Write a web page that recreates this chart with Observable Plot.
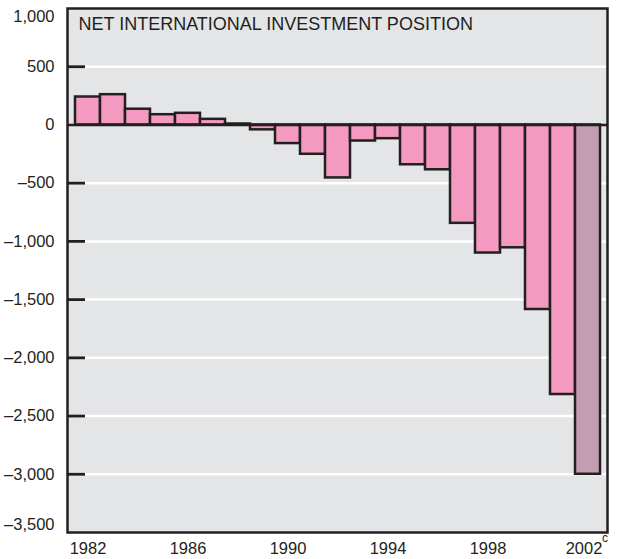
<!DOCTYPE html>
<html>
<head>
<meta charset="utf-8">
<script src="https://cdn.jsdelivr.net/npm/d3@7"></script>
<script src="https://cdn.jsdelivr.net/npm/@observablehq/plot@0.6"></script>
<style>
  html, body { margin: 0; padding: 0; background: #fff; }
  #chart svg { display: block; overflow: visible; }
</style>
</head>
<body>
<div id="chart"></div>
<script>
const years = [1982,1983,1984,1985,1986,1987,1988,1989,1990,1991,1992,1993,1994,1995,1996,1997,1998,1999,2000,2001,2002];
const values = [240,260,135,88,100,48,8,-42,-160,-252,-455,-138,-118,-342,-385,-845,-1100,-1055,-1585,-2315,-3000];
const estimated = [2002];
const yTicks = [1000,500,0,-500,-1000,-1500,-2000,-2500,-3000,-3500];
const gridTicks = [500,-500,-1000,-1500,-2000,-2500,-3000];
const xTickYears = [1982,1986,1990,1994,1998,2002];
const title = "NET INTERNATIONAL INVESTMENT POSITION";

const data = years.map((y, i) => ({year: y, value: values[i], est: estimated.includes(y)}));
const font = "'Liberation Sans', Arial, sans-serif";
const fmt = d => d3.format(",")(d).replace("\u2212", "\u2013").replace("-", "\u2013");

const chart = Plot.plot({
  width: 619,
  height: 559,
  marginLeft: 67,
  marginRight: 12,
  marginTop: 8,
  marginBottom: 27,
  style: {fontFamily: font, fontSize: "16.5px", color: "#231f20", background: "#fff"},
  x: {type: "band", domain: years, padding: 0, axis: null, label: null},
  y: {domain: [-3500, 1000], axis: null, label: null},
  marks: [
    Plot.frame({fill: "#e4e5e7", stroke: null}),
    Plot.ruleY(gridTicks, {stroke: "#ffffff", strokeWidth: 2.5}),
    Plot.tickY(gridTicks, {y: d => d, stroke: "#231f20", strokeWidth: 2.8, insetRight: 522}),
    Plot.axisY({ticks: yTicks.slice(1, -1), tickSize: 0, tickPadding: 13, tickFormat: fmt, fill: "#231f20", label: null}),
    Plot.axisY({ticks: [1000], tickSize: 0, tickPadding: 13, tickFormat: fmt, fill: "#231f20", dy: 8, label: null}),
    Plot.axisY({ticks: [-3500], tickSize: 0, tickPadding: 13, tickFormat: fmt, fill: "#231f20", dy: -8, label: null}),
    Plot.barY(data, {x: "year", y: "value", fill: d => d.est ? "#c39db1" : "#f49ac1", stroke: "#231f20", strokeWidth: 2.5, inset: 0}),
    Plot.ruleY([0], {stroke: "#231f20", strokeWidth: 2.5}),
    Plot.frame({stroke: "#231f20", strokeWidth: 2.5}),
    Plot.axisX({ticks: xTickYears.slice(0, -1), tickSize: 0, tickPadding: 10, tickFormat: d => String(d), fill: "#231f20", label: null}),
    Plot.axisX({ticks: xTickYears.slice(-1), tickSize: 0, tickPadding: 10, tickFormat: d => String(d), fill: "#231f20", label: null, dx: -4}),
    Plot.text(["c"], {x: () => 2002, frameAnchor: "bottom", dy: 9, dx: 17, fontSize: 12, fill: "#231f20"}),
    Plot.text([title], {frameAnchor: "top-left", dx: 11, dy: 9, fontSize: 18, fill: "#231f20"})
  ]
});
document.getElementById("chart").appendChild(chart);
</script>
</body>
</html>
